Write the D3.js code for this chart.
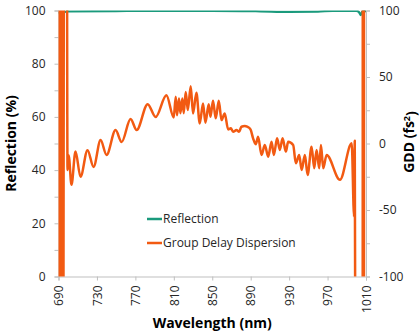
<!DOCTYPE html>
<html>
<head>
<meta charset="utf-8">
<script src="https://d3js.org/d3.v7.min.js"></script>
<style>
  body { margin: 0; background: #fff; }
  text { font-family: "Open Sans", sans-serif; }
</style>
</head>
<body>
<div id="chart"></div>
<script>
// GDD curve (fs^2), wavelength in nm
var gddWl = [690, 690.7, 691.4, 692.1, 692.8, 693.5, 694.2, 694.9, 695.7, 697.5,
  699.4, 700.6, 703.5, 707.7, 712.9, 720.2, 726.5, 733.8, 740.0, 749.4,
  755.7, 765.0, 771.3, 782.8, 791.1, 802.3, 809.9, 812.0, 813.3, 815.4,
  816.8, 818.9, 820.3, 822.4, 824.5, 827.6, 830.0, 833.5, 837.0, 840.4,
  842.9, 846.3, 848.1, 850.8, 853.6, 856.8, 859.6, 863.0, 866.5, 869.3,
  871.7, 875.2, 877.9, 880.4, 883.9, 886.3, 889.8, 892.5, 895.3, 897.7,
  901.3, 904.7, 908.2, 911.7, 914.1, 917.5, 920.3, 923.2, 926.6, 929.0,
  934.2, 937.0, 940.5, 943.0, 946.4, 949.2, 953.4, 956.1, 958.6, 961.3,
  963.1, 965.5, 969.0, 982.9, 995.1, 997.6, 998.3, 999.6, 1006.2, 1007.0,
  1007.6, 1008.2, 1010];
var gddVal = [300, -300, 300, -300, 300, -300, 300, -300, 300, 900,
  -20, -9, -31, -6, -25, -5, -17.6, 2.6, -8.6, 10.1,
  1.1, 18.4, 10.1, 29.6, 19.9, 36.3, 19.6, 35.1, 21.3, 33.9,
  22.8, 33.9, 22.8, 38.8, 25.1, 43.1, 22.6, 38.1, 15.1, 30.1,
  15.6, 29.6, 20.1, 32.1, 18.9, 32.1, 17.6, 22.6, 10.6, 11.4,
  8.8, 10.1, 8.8, 12.6, 13.1, 12.6, 10.6, 3.9, -0.6, 5.1,
  -8.6, -1.1, -9.9, 1.3, -8.6, 3.9, -4.9, 3.9, -6.1, 1.3,
  -1.1, -14.8, -8.6, -19.9, -8.6, -23.6, -2.4, -18.6, -4.9, -18.6,
  -1.1, -18.6, -8.6, -27.3, 0.1, -55, 2, -400, -2000, 2000,
  -2000, 2000, 2000];

// Reflection (%)
var reflWl = [690, 695, 700, 750, 800, 850, 900, 930, 960, 975, 1000, 1002.5, 1004.5, 1006, 1010];
var reflVal = [99.0, 99.4, 99.7, 99.8, 99.9, 99.9, 99.7, 99.5, 99.6, 99.9, 99.9, 99.5, 98.3, 99.6, 99.8];

var xTicks = [690, 730, 770, 810, 850, 890, 930, 970, 1010];
var leftTicks = [0, 10, 20, 30, 40, 50, 60, 70, 80, 90, 100];
var rightTicks = [-100, -75, -50, -25, 0, 25, 50, 75, 100];

var W = 420, H = 335;
var plotL = 58.5, plotR = 366, plotT = 10.5, plotB = 276.5;
var axisCol = "#bfbfbf", textCol = "#262626";
var green = "#1a9a7c", orange = "#f25a12";

var svg = d3.select("#chart").append("svg")
  .attr("width", W).attr("height", H);

var x = d3.scaleLinear().domain([690, 1010]).range([plotL, plotR]);
var yL = d3.scaleLinear().domain([0, 100]).range([plotB, plotT]);
var yR = d3.scaleLinear().domain([-100, 100]).range([plotB, plotT]);

function styleAxis(g) {
  g.select(".domain").attr("stroke", axisCol);
  g.selectAll(".tick line").attr("stroke", axisCol);
  g.selectAll("text").attr("fill", textCol).style("font-size", "12px")
    .style("font-family", "'Open Sans', sans-serif");
}

// left axis
svg.append("g").attr("transform", "translate(" + plotL + ",0)")
  .call(d3.axisLeft(yL).tickValues(leftTicks).tickSizeOuter(0).tickSize(4).tickPadding(9)
    .tickFormat(function(d) { return d % 20 === 0 ? d : ""; }))
  .call(styleAxis);

// right axis
svg.append("g").attr("transform", "translate(" + plotR + ",0)")
  .call(d3.axisRight(yR).tickValues(rightTicks).tickSizeOuter(0).tickSize(4).tickPadding(9)
    .tickFormat(function(d) { return d % 50 === 0 ? d : ""; }))
  .call(styleAxis);

// bottom axis, rotated labels
svg.append("g").attr("transform", "translate(0," + plotB + ")")
  .call(d3.axisBottom(x).tickValues(xTicks).tickSizeOuter(0).tickSize(4).tickFormat(d3.format("d")))
  .call(styleAxis)
  .selectAll("text")
    .attr("transform", "rotate(-90)")
    .attr("x", -9).attr("y", 0).attr("dy", "0.35em")
    .style("text-anchor", "end");

// clip to plot area
svg.append("clipPath").attr("id", "plotclip")
  .append("rect").attr("x", plotL).attr("y", plotT)
  .attr("width", plotR - plotL).attr("height", plotB - plotT);

var reflLine = d3.line()
  .x(function(d, i) { return x(reflWl[i]); })
  .y(function(d) { return yL(d); })
  .curve(d3.curveMonotoneX);

var gddLine = d3.line()
  .x(function(d, i) { return x(gddWl[i]); })
  .y(function(d) { return yR(d); })
  .curve(d3.curveMonotoneX);

var plot = svg.append("g").attr("clip-path", "url(#plotclip)");

plot.append("path").datum(reflVal)
  .attr("d", reflLine)
  .attr("fill", "none").attr("stroke", green).attr("stroke-width", 2.3);

plot.append("path").datum(gddVal)
  .attr("d", gddLine)
  .attr("fill", "none").attr("stroke", orange).attr("stroke-width", 2.5)
  .attr("stroke-linejoin", "round");

// legend
var legend = [
  {name: "Reflection", color: green, y: 219},
  {name: "Group Delay Dispersion", color: orange, y: 243}
];
legend.forEach(function(l) {
  svg.append("line").attr("x1", 147).attr("x2", 162).attr("y1", l.y).attr("y2", l.y)
    .attr("stroke", l.color).attr("stroke-width", 2.5);
  svg.append("text").attr("x", 163).attr("y", l.y).attr("dy", "0.36em")
    .attr("fill", textCol).style("font-size", "12px").text(l.name);
});

// axis titles
svg.append("text")
  .attr("transform", "translate(16,143.5) rotate(-90)")
  .attr("text-anchor", "middle")
  .style("font-size", "14px").style("font-weight", "bold").attr("fill", "#000")
  .text("Reflection (%)");

var gt = svg.append("text")
  .attr("transform", "translate(414,142) rotate(-90)")
  .attr("text-anchor", "middle")
  .style("font-size", "14px").style("font-weight", "bold").attr("fill", "#000");
gt.append("tspan").text("GDD (fs");
gt.append("tspan").attr("dy", "-0.45em").style("font-size", "9px").text("2");
gt.append("tspan").attr("dy", "0.45em").text(")");

svg.append("text")
  .attr("x", (plotL + plotR) / 2).attr("y", 328)
  .attr("text-anchor", "middle")
  .style("font-size", "14px").style("font-weight", "bold").attr("fill", "#000")
  .text("Wavelength (nm)");
</script>
</body>
</html>
